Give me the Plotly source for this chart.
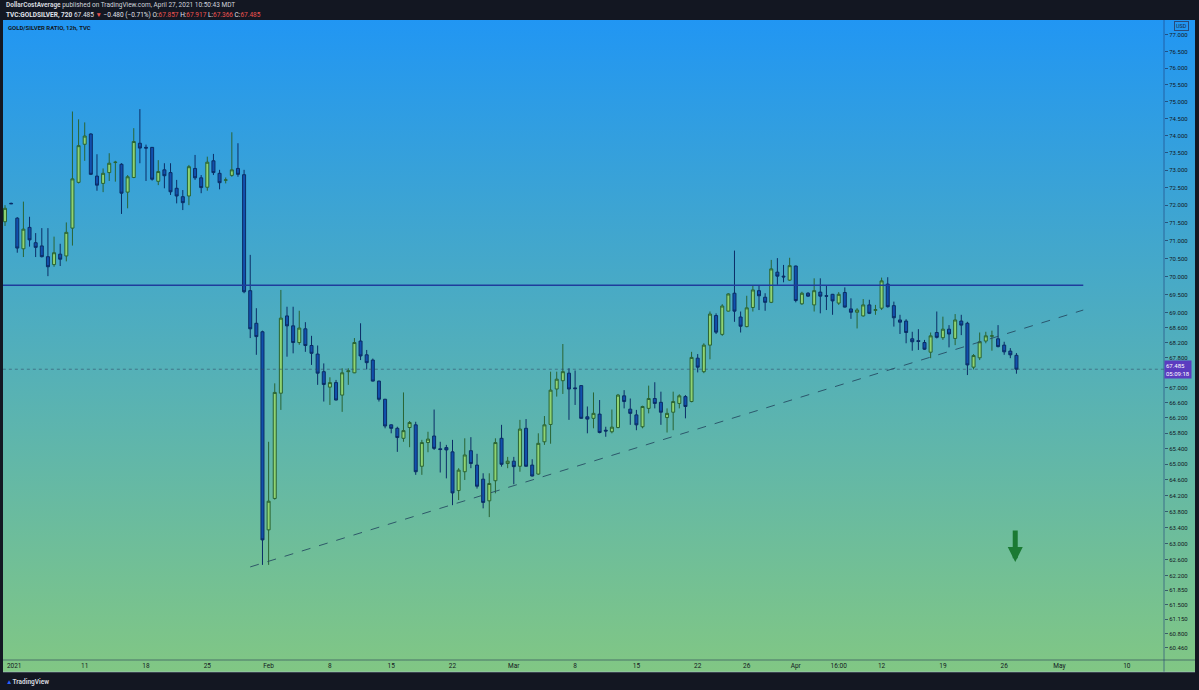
import base64
import math
import plotly.graph_objects as go

# ---------------- data (12h candles, index 0 = Dec 31 12:00) ----------------
opens = [71.53, 72.05, 71.63, 70.77, 71.37, 70.94, 70.85, 70.55, 70.33, 70.62,
         70.57, 71.35, 72.65, 73.75, 74.05, 72.83, 72.62, 72.93, 73.22, 73.17,
         72.37, 72.79, 73.78, 73.66, 73.66, 72.68, 73.01, 72.93, 72.48, 72.24,
         72.26, 73.05, 72.78, 72.51, 73.27, 72.91, 72.71, 72.85, 73.05, 72.87,
         69.61, 68.72, 68.49, 63.34, 64.13, 66.85, 68.92, 68.65, 68.20, 68.57,
         68.12, 67.89, 67.42, 67.01, 67.13, 66.80, 67.42, 67.39, 68.24, 67.87,
         67.73, 67.17, 66.69, 66.02, 65.93, 65.67, 65.95, 66.02, 64.95, 65.56,
         65.73, 65.40, 65.43, 65.32, 64.33, 64.81, 65.35, 64.98, 64.62, 64.07,
         64.58, 65.67, 65.02, 65.08, 64.95, 65.93, 64.98, 64.75, 65.58, 66.03,
         66.96, 67.18, 67.38, 66.99, 67.05, 66.23, 66.19, 66.30, 65.88, 65.84,
         65.95, 66.78, 66.43, 66.28, 65.97, 66.45, 66.71, 66.61, 66.21, 66.35,
         66.58, 66.76, 66.63, 67.78, 67.42, 68.13, 68.93, 68.42, 69.05, 69.54,
         68.89, 68.63, 69.15, 69.61, 69.43, 69.29, 70.12, 70.01, 69.90, 70.29,
         69.25, 69.54, 69.22, 69.57, 69.47, 69.51, 69.27, 69.56, 69.11, 69.02,
         68.92, 69.22, 69.07, 69.13, 69.79, 69.20, 68.81, 68.78, 68.30, 68.25,
         68.20, 67.94, 68.47, 68.33, 68.56, 68.31, 68.78, 68.72, 67.54, 67.79,
         68.24, 68.37, 68.30, 68.13, 67.97, 67.857]
highs = [72.00, 72.07, 71.66, 72.10, 71.67, 71.21, 71.35, 71.35, 71.11, 70.91,
         71.51, 74.71, 74.48, 74.39, 74.07, 73.46, 73.05, 73.49, 73.27, 73.20,
         72.86, 74.22, 74.78, 73.74, 73.67, 73.29, 73.20, 73.20, 72.72, 72.43,
         73.15, 73.44, 72.86, 73.39, 73.47, 73.01, 72.79, 74.10, 73.78, 73.01,
         70.60, 69.13, 68.52, 65.58, 67.11, 69.63, 69.17, 69.17, 69.06, 68.75,
         68.38, 68.12, 67.64, 67.27, 67.20, 67.51, 67.51, 68.32, 68.72, 68.00,
         67.77, 67.18, 66.70, 66.03, 65.97, 66.87, 66.12, 66.10, 65.63, 65.84,
         66.42, 65.58, 65.50, 65.63, 64.90, 65.67, 65.70, 65.27, 64.77, 64.77,
         65.67, 66.02, 65.19, 65.19, 66.15, 66.17, 65.13, 65.80, 66.25, 67.42,
         67.42, 68.16, 67.51, 67.45, 67.06, 66.50, 66.87, 66.67, 65.97, 66.42,
         66.83, 66.93, 66.71, 66.41, 66.52, 67.05, 67.14, 66.89, 66.45, 66.89,
         66.82, 66.80, 67.95, 67.89, 68.18, 69.04, 68.99, 69.24, 69.54, 70.72,
         69.04, 69.47, 69.75, 69.75, 69.54, 70.46, 70.51, 70.32, 70.52, 70.30,
         69.58, 69.57, 69.95, 69.95, 69.75, 69.52, 69.57, 69.70, 69.40, 69.13,
         69.38, 69.36, 69.22, 69.97, 69.98, 69.31, 68.95, 68.83, 68.49, 68.56,
         68.27, 68.47, 69.04, 68.90, 68.67, 68.97, 68.95, 68.76, 67.89, 68.47,
         68.49, 68.52, 68.67, 68.22, 68.05, 67.917]
lows = [71.41, 72.03, 70.66, 70.54, 70.83, 70.54, 70.53, 70.01, 70.27, 70.29,
        70.42, 70.86, 72.62, 73.27, 72.86, 72.41, 72.37, 72.69, 72.67, 71.75,
        71.91, 72.77, 73.20, 72.69, 72.70, 72.57, 72.48, 72.29, 72.05, 71.86,
        72.00, 72.72, 72.34, 72.41, 72.86, 72.45, 72.62, 72.81, 72.81, 69.54,
        68.32, 67.87, 62.47, 62.47, 64.10, 66.41, 67.82, 67.91, 68.14, 67.95,
        67.60, 67.07, 66.63, 66.54, 66.66, 66.36, 67.07, 67.38, 67.73, 67.48,
        67.16, 66.63, 65.93, 65.80, 65.32, 65.58, 65.44, 64.73, 64.73, 65.31,
        65.37, 64.79, 64.64, 63.96, 64.09, 64.60, 64.90, 64.38, 63.88, 63.66,
        64.26, 64.94, 64.90, 64.49, 64.81, 64.94, 64.69, 64.73, 65.50, 65.53,
        66.76, 66.83, 66.15, 66.54, 66.18, 65.80, 65.93, 65.80, 65.71, 65.80,
        65.93, 66.45, 66.02, 65.88, 65.93, 66.32, 66.45, 66.02, 65.82, 65.88,
        66.45, 66.19, 66.61, 67.40, 67.38, 67.75, 68.43, 68.38, 69.04, 68.76,
        68.47, 68.61, 69.04, 69.08, 69.06, 69.27, 69.77, 69.84, 69.88, 69.29,
        69.22, 69.44, 69.04, 68.99, 69.08, 68.95, 69.22, 69.15, 68.84, 68.58,
        68.90, 68.97, 68.95, 69.08, 69.15, 68.63, 68.43, 68.18, 67.98, 68.00,
        68.00, 67.78, 68.31, 68.27, 68.07, 68.13, 68.40, 67.33, 67.48, 67.73,
        68.18, 67.98, 68.07, 67.87, 67.78, 67.366]
closes = [71.91, 72.04, 70.79, 71.32, 71.02, 70.81, 70.55, 70.27, 70.66, 70.48,
          71.23, 72.75, 73.71, 73.99, 72.88, 72.57, 72.91, 73.20, 73.23, 72.34,
          72.81, 73.83, 73.64, 73.64, 72.74, 72.96, 72.84, 72.38, 72.26, 72.07,
          73.10, 72.78, 72.50, 73.23, 72.93, 72.64, 72.72, 73.01, 72.88, 69.58,
          68.57, 68.36, 63.09, 64.06, 66.87, 68.86, 68.65, 68.20, 68.59, 68.12,
          67.91, 67.38, 67.08, 67.13, 66.67, 67.39, 67.44, 68.20, 67.84, 67.66,
          67.17, 66.69, 65.99, 65.93, 65.69, 65.87, 66.08, 64.81, 65.56, 65.65,
          65.41, 65.38, 65.37, 64.27, 64.85, 65.24, 65.02, 64.44, 64.03, 64.51,
          65.56, 65.00, 65.08, 64.94, 65.91, 64.95, 64.70, 65.54, 66.02, 66.93,
          67.22, 67.42, 66.96, 66.97, 66.19, 66.17, 66.32, 65.82, 65.86, 65.96,
          66.80, 66.63, 66.32, 66.02, 66.50, 66.71, 66.58, 66.35, 66.32, 66.63,
          66.78, 66.50, 67.80, 67.54, 68.13, 68.97, 68.48, 69.19, 69.52, 69.05,
          68.64, 69.14, 69.63, 69.47, 69.29, 70.21, 70.01, 69.99, 70.30, 69.34,
          69.54, 69.46, 69.61, 69.46, 69.46, 69.33, 69.51, 69.16, 69.02, 69.08,
          69.22, 68.99, 69.09, 69.88, 69.17, 68.87, 68.75, 68.47, 68.22, 68.23,
          68.02, 68.38, 68.34, 68.56, 68.43, 68.81, 68.67, 67.60, 67.85, 68.22,
          68.38, 68.38, 68.09, 67.95, 67.87, 67.485]

tick_pos = [1.5, 13, 23, 33, 43, 53, 63, 73, 83, 93, 103, 113, 121, 129, 136,
            143, 153, 163, 172, 183]
tick_text = ["2021", "11", "18", "25", "Feb", "8", "15", "22", "Mar", "8", "15",
             "22", "26", "Apr", "16:00", "12", "19", "26", "May", "10"]

price_ticks = [77.0, 76.5, 76.0, 75.5, 75.0, 74.5, 74.0, 73.5, 73.0, 72.5, 72.0,
               71.5, 71.0, 70.5, 70.0, 69.5, 69.0, 68.6, 68.2, 67.8, 67.0, 66.6,
               66.2, 65.8, 65.4, 65.0, 64.6, 64.2, 63.8, 63.4, 63.0, 62.6, 62.2,
               61.85, 61.5, 61.15, 60.8, 60.46]
price_tick_text = ["%.3f" % v for v in price_ticks]

resistance_level = 69.76
resistance_x = [-1, 175.9]
trend_x = [40, 175.9]
trend_y = [62.42, 69.08]
last_price = 67.485
countdown = "05:09:18"
arrow_x, arrow_y = 164.8, 62.54

x_range = [-0.33, 189.07]
y_range = [60.169, 77.457]

idx = list(range(len(opens)))

fig = go.Figure()
fig.add_trace(go.Candlestick(
    x=idx, open=opens, high=highs, low=lows, close=closes,
    increasing=dict(fillcolor="#8fd372", line=dict(color="#2a6434", width=1)),
    decreasing=dict(fillcolor="#1150ad", line=dict(color="#0b2d66", width=1)),
    whiskerwidth=0, showlegend=False, hoverinfo="skip"))

fig.add_trace(go.Scatter(x=[x_range[0] - 1, x_range[1] + 1], y=[last_price, last_price],
                         mode="lines", line=dict(color="rgba(45,70,100,0.55)", width=1, dash="dot"),
                         showlegend=False, hoverinfo="skip"))
fig.add_trace(go.Scatter(x=resistance_x, y=[resistance_level, resistance_level],
                         mode="lines", line=dict(color="#1f3c9c", width=1.5),
                         showlegend=False, hoverinfo="skip"))
fig.add_trace(go.Scatter(x=trend_x, y=trend_y, mode="lines",
                         line=dict(color="rgba(35,70,95,0.85)", width=1, dash="dash"),
                         showlegend=False, hoverinfo="skip"))

# gradient background (TradingView style)
svg = ('<svg xmlns="http://www.w3.org/2000/svg" width="100" height="100" '
       'viewBox="0 0 100 100" preserveAspectRatio="none"><defs>'
       '<linearGradient id="g" x1="0" y1="0" x2="0" y2="1">'
       '<stop offset="0" stop-color="#2196F3"/><stop offset="1" stop-color="#81C784"/>'
       '</linearGradient></defs><rect width="100" height="100" fill="url(#g)"/></svg>')
svg_uri = "data:image/svg+xml;base64," + base64.b64encode(svg.encode()).decode()

W, H = 1199, 690
ml, mr, mt, mb = 3, 35, 20, 30
pw, ph = W - ml - mr, H - mt - mb


def px(xp):
    return (xp - ml) / pw


def py(yp):
    return (H - mb - yp) / ph


red = "#ef5350"
header2 = ("<b>TVC:GOLDSILVER, 720</b> 67.485 <span style='color:%s'>▼</span> −0.480 (−0.71%%) "
           "O:<span style='color:%s'>67.857</span> H:<span style='color:%s'>67.917</span> "
           "L:<span style='color:%s'>67.366</span> C:<span style='color:%s'>67.485</span>"
           % (red, red, red, red, red))

annotations = [
    dict(text="<b>DollarCostAverage</b> published on TradingView.com, April 27, 2021 10:50:43 MDT",
         xref="paper", yref="paper", x=px(4), y=py(5.5), xanchor="left", yanchor="middle",
         showarrow=False, font=dict(size=6.5, color="#d1d4dc", family="Roboto")),
    dict(text=header2, xref="paper", yref="paper", x=px(4), y=py(14.5), xanchor="left",
         yanchor="middle", showarrow=False, font=dict(size=6.5, color="#e0e3eb", family="Roboto")),
    dict(text="<b>GOLD/SILVER RATIO, 12h, TVC</b>", xref="paper", yref="paper", x=px(6), y=py(28),
         xanchor="left", yanchor="middle", showarrow=False,
         font=dict(size=6, color="#131722", family="Roboto")),
    dict(text="USD", xref="paper", yref="paper", x=px(1181), y=py(26), xanchor="center",
         yanchor="middle", showarrow=False, bordercolor="#2a4a7a", borderwidth=1, borderpad=1,
         font=dict(size=5.5, color="#1a2a44", family="Roboto")),
    dict(text="%.3f<br>%s" % (last_price, countdown), xref="paper", yref="y",
         x=1.0, y=math.log10(last_price), xanchor="left", yanchor="middle", showarrow=False,
         bgcolor="#5b3cc0", borderpad=1, align="left",
         font=dict(size=6, color="#ffffff", family="Roboto")),
    dict(text="", x=arrow_x, y=math.log10(arrow_y), xref="x", yref="y", showarrow=True,
         ax=0, ay=-33, arrowcolor="#1a7a33", arrowwidth=5, arrowhead=2, arrowsize=0.6),
    dict(text="<span style='color:#2962ff'>▲</span><b>TradingView</b>", xref="paper", yref="paper",
         x=px(4), y=py(682), xanchor="left", yanchor="middle", showarrow=False,
         font=dict(size=6.5, color="#d1d4dc", family="Roboto")),
]

shapes = [
    dict(type="line", xref="paper", yref="paper", x0=0, x1=px(1195), y0=0, y1=0,
         line=dict(color="rgba(30,50,80,0.55)", width=1)),
    dict(type="line", xref="paper", yref="paper", x0=1, x1=1, y0=py(672), y1=1,
         line=dict(color="rgba(30,60,120,0.6)", width=1)),
    dict(type="line", xref="paper", yref="paper", x0=0, x1=px(1195), y0=py(672), y1=py(672),
         line=dict(color="rgba(180,200,220,0.5)", width=1)),
]

fig.update_layout(
    width=W, height=H,
    margin=dict(l=ml, r=mr, t=mt, b=mb, pad=0),
    paper_bgcolor="#131722",
    plot_bgcolor="rgba(0,0,0,0)",
    showlegend=False,
    images=[dict(source=svg_uri, xref="paper", yref="paper", x=0, y=1,
                 sizex=px(1195), sizey=1 - py(672), xanchor="left", yanchor="top",
                 sizing="stretch", layer="below")],
    annotations=annotations,
    shapes=shapes,
    xaxis=dict(range=x_range, tickmode="array", tickvals=tick_pos, ticktext=tick_text,
               showgrid=False, zeroline=False, showline=False, ticks="",
               tickfont=dict(size=6.5, color="#131722", family="Roboto"),
               rangeslider=dict(visible=False), fixedrange=True),
    yaxis=dict(type="log", range=[math.log10(y_range[0]), math.log10(y_range[1])], side="right",
               tickmode="array", tickvals=price_ticks, ticktext=price_tick_text,
               showgrid=False, zeroline=False, showline=False, ticks="outside", ticklen=3,
               tickcolor="rgba(30,50,90,0.7)",
               tickfont=dict(size=6, color="#131722", family="Roboto")),
)

fig.write_html("out.html", config={"displayModeBar": False},
               post_script="document.body.style.margin='0';document.body.style.padding='0';"
                           "document.body.style.background='#131722';")
